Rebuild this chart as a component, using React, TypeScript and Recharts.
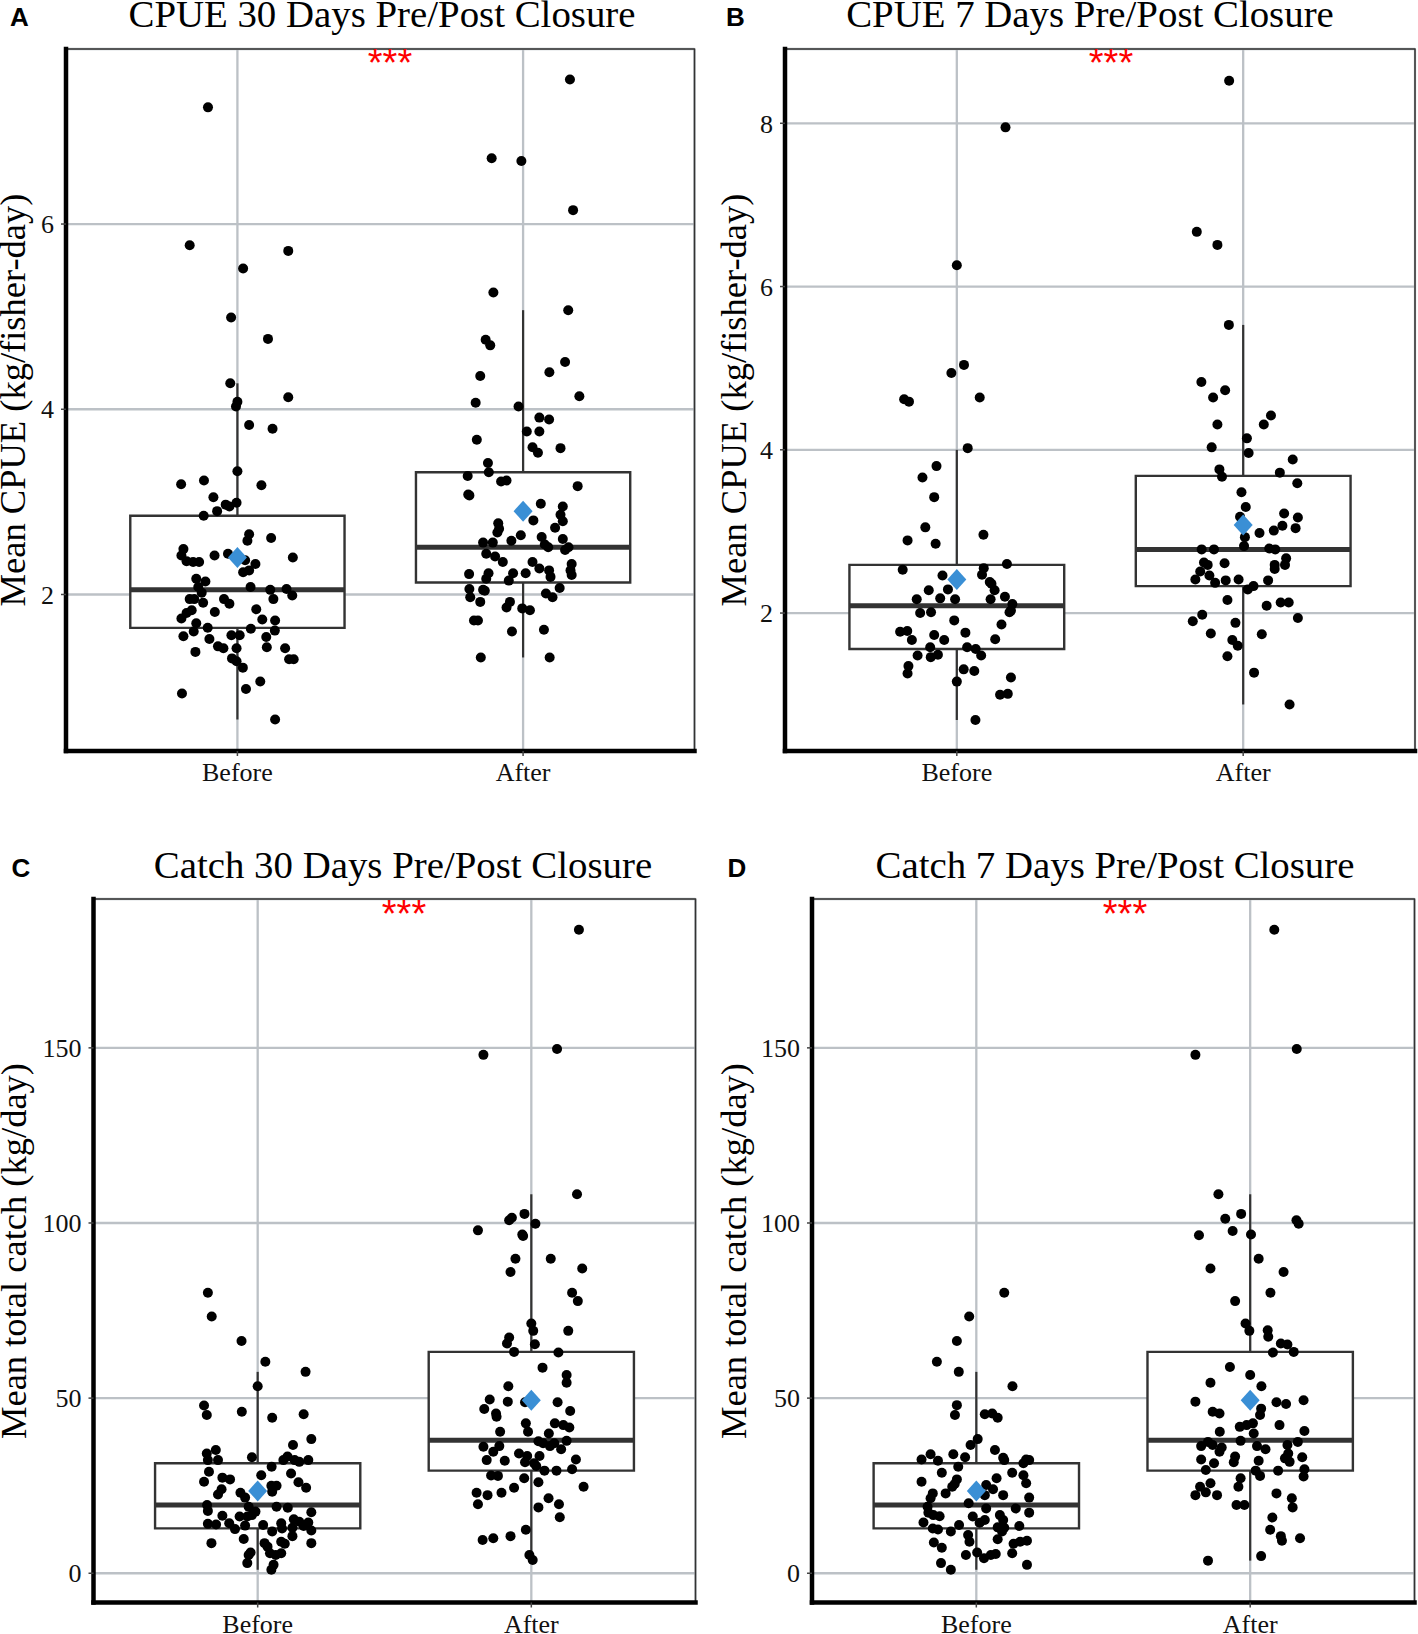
import React from 'react';
import {
  ComposedChart,
  Scatter,
  XAxis,
  YAxis,
  CartesianGrid,
  ReferenceArea,
  ReferenceLine,
} from 'recharts';

type Pt = [number, number]; // [jitter offset from group centre, value]

const groups = ['Before', 'After'];

// Panel A: CPUE 30 days
const cpue30Before: Pt[] = [
  [-0.103, 7.26], [-0.167, 5.77], [0.178, 5.71], [0.02, 5.52], [-0.022, 4.99], [0.107, 4.76], [-0.025, 4.28],
  [0.178, 4.13], [0, 4.08], [-0.005, 4.03], [0.041, 3.83], [0.123, 3.79], [0, 3.33], [-0.197, 3.19],
  [-0.117, 3.23], [0.084, 3.18], [-0.084, 3.05], [-0.041, 2.97], [-0.028, 2.95], [-0.003, 2.99], [-0.071, 2.9],
  [-0.118, 2.85], [0.041, 2.65], [0.035, 2.58], [0.118, 2.61], [-0.189, 2.49], [-0.196, 2.42], [-0.178, 2.36],
  [-0.155, 2.35], [-0.134, 2.35], [-0.08, 2.42], [-0.033, 2.44], [0.027, 2.37], [0.063, 2.33], [0.02, 2.24],
  [0.041, 2.26], [0.194, 2.4], [-0.144, 2.17], [-0.112, 2.14], [-0.137, 2.08], [-0.125, 2.02], [0.046, 2.08],
  [0.115, 2.05], [0.172, 2.06], [0.192, 1.99], [0.126, 1.95], [-0.167, 1.95], [-0.151, 1.95], [-0.12, 1.91],
  [-0.047, 1.95], [-0.028, 1.9], [-0.16, 1.83], [-0.178, 1.8], [-0.196, 1.74], [-0.079, 1.81], [0.066, 1.84],
  [0.087, 1.73], [0.132, 1.72], [-0.144, 1.69], [-0.153, 1.6], [-0.104, 1.64], [-0.189, 1.55], [-0.098, 1.52],
  [-0.021, 1.56], [0.008, 1.56], [0.047, 1.63], [0.131, 1.61], [0.101, 1.54], [-0.068, 1.44], [-0.049, 1.42],
  [-0.003, 1.42], [0.103, 1.43], [0.167, 1.42], [-0.147, 1.38], [-0.019, 1.31], [-0.003, 1.28], [0.019, 1.21],
  [0.181, 1.3], [0.197, 1.3], [0.08, 1.06], [0.03, 0.98], [-0.194, 0.93], [0.132, 0.65],
];
const cpue30After: Pt[] = [
  [0.164, 7.56], [-0.11, 6.71], [-0.006, 6.68], [0.175, 6.15], [-0.104, 5.26], [0.158, 5.07], [-0.131, 4.75],
  [-0.115, 4.69], [0.147, 4.51], [-0.15, 4.36], [0.092, 4.4], [0.197, 4.14], [-0.166, 4.07], [-0.016, 4.03],
  [0.057, 3.91], [0.091, 3.89], [0.013, 3.76], [0.057, 3.76], [-0.162, 3.67], [0.033, 3.59], [0.052, 3.53],
  [0.131, 3.58], [-0.123, 3.42], [-0.12, 3.32], [-0.194, 3.28], [-0.077, 3.22], [-0.058, 3.23], [0.191, 3.17],
  [-0.192, 3.08], [-0.188, 3.07], [0.062, 2.98], [0.139, 2.95], [0.131, 2.86], [0.139, 2.79], [0.036, 2.8],
  [-0.087, 2.77], [-0.084, 2.71], [-0.09, 2.67], [0.112, 2.72], [-0.008, 2.64], [0.065, 2.62], [0.139, 2.6],
  [-0.041, 2.58], [-0.14, 2.56], [-0.106, 2.56], [0.076, 2.54], [0.088, 2.51], [0.147, 2.48], [0.159, 2.51],
  [-0.129, 2.44], [-0.098, 2.41], [-0.071, 2.35], [0.033, 2.35], [0.17, 2.33], [0.057, 2.28], [0.091, 2.26],
  [0.166, 2.26], [-0.035, 2.23], [0.009, 2.23], [-0.189, 2.22], [-0.121, 2.23], [0.17, 2.21], [-0.129, 2.17],
  [-0.05, 2.15], [0.096, 2.19], [-0.14, 2.05], [-0.134, 2.04], [-0.188, 2.06], [0.128, 2.07], [0.08, 2.01],
  [0.103, 1.97], [-0.185, 1.97], [-0.15, 1.92], [-0.046, 1.92], [-0.058, 1.86], [-0.003, 1.85], [0.024, 1.83],
  [-0.172, 1.72], [-0.158, 1.72], [-0.039, 1.6], [0.073, 1.62], [-0.148, 1.32], [0.093, 1.32],
];
// [lower whisker, Q1, median, Q3, upper whisker] per group
const cpue30Stats = [
  [0.65, 1.64, 2.05, 2.85, 4.28],
  [1.32, 2.13, 2.51, 3.32, 5.07],
];
const cpue30Means = [2.4, 2.9];

// Panel B: CPUE 7 days
const cpue7Before: Pt[] = [
  [0.17, 7.95], [0, 6.26], [-0.019, 4.94], [0.025, 5.04], [0.08, 4.64], [-0.184, 4.62], [-0.167, 4.59],
  [0.038, 4.02], [-0.071, 3.8], [-0.12, 3.66], [-0.079, 3.42], [-0.11, 3.05], [-0.172, 2.89], [-0.074, 2.85],
  [0.093, 2.96], [-0.189, 2.53], [-0.05, 2.46], [0.094, 2.55], [0.088, 2.47], [0.175, 2.6], [0.115, 2.38],
  [0.121, 2.36], [0.132, 2.28], [-0.098, 2.28], [-0.031, 2.29], [-0.14, 2.17], [-0.058, 2.18], [-0.006, 2.17],
  [0.118, 2.17], [0.168, 2.2], [0.194, 2.11], [0.184, 2.01], [0.189, 2.03], [-0.128, 2.0], [-0.09, 2.01],
  [-0.009, 1.91], [0.156, 1.86], [-0.198, 1.77], [-0.173, 1.78], [-0.157, 1.67], [-0.079, 1.73], [-0.044, 1.67],
  [0.03, 1.76], [0.134, 1.68], [0.036, 1.58], [0.066, 1.56], [0.085, 1.48], [-0.137, 1.48], [-0.093, 1.58],
  [-0.091, 1.46], [-0.066, 1.49], [-0.169, 1.35], [-0.172, 1.26], [0.024, 1.31], [0.061, 1.29], [0, 1.16],
  [0.189, 1.21], [0.151, 1.0], [0.178, 1.01], [0.065, 0.69],
];
const cpue7After: Pt[] = [
  [-0.049, 8.52], [-0.162, 6.67], [-0.09, 6.51], [-0.05, 5.53], [-0.146, 4.83], [-0.105, 4.64], [-0.063, 4.73],
  [0.097, 4.42], [-0.09, 4.31], [0.072, 4.31], [0.013, 4.14], [-0.11, 4.03], [0.019, 3.96], [0.173, 3.88],
  [-0.083, 3.76], [-0.074, 3.67], [0.128, 3.72], [0.189, 3.59], [-0.006, 3.48], [0.009, 3.3], [0.143, 3.22],
  [0.191, 3.17], [-0.011, 3.18], [0.137, 3.07], [0.107, 3.01], [0.183, 3.04], [0.057, 2.98], [0.006, 2.93],
  [0.003, 2.82], [-0.145, 2.78], [-0.102, 2.78], [0.091, 2.79], [0.112, 2.78], [0.15, 2.67], [-0.137, 2.62],
  [-0.124, 2.59], [-0.065, 2.61], [0.11, 2.59], [0.146, 2.59], [-0.15, 2.51], [-0.118, 2.46], [0.11, 2.54],
  [-0.167, 2.41], [-0.098, 2.37], [-0.061, 2.4], [-0.016, 2.41], [0.087, 2.4], [0.016, 2.29], [0.036, 2.33],
  [-0.055, 2.16], [0.082, 2.09], [0.131, 2.13], [0.159, 2.13], [-0.143, 1.98], [-0.176, 1.9], [0.191, 1.94],
  [-0.027, 1.88], [-0.113, 1.75], [0.065, 1.74], [-0.038, 1.67], [-0.019, 1.6], [-0.055, 1.47], [0.038, 1.27],
  [0.162, 0.88],
];
const cpue7Stats = [
  [0.69, 1.56, 2.09, 2.59, 4.0],
  [0.88, 2.33, 2.78, 3.68, 5.53],
];
const cpue7Means = [2.41, 3.08];

// Panel C: catch 30 days
const catch30Before: Pt[] = [
  [-0.182, 80.1], [-0.168, 73.3], [-0.059, 66.3], [0.028, 60.4], [0.175, 57.5], [0, 53.4], [-0.196, 47.9],
  [-0.186, 45.2], [-0.058, 46.1], [0.053, 44.4], [0.168, 45.4], [0.196, 38.3], [-0.153, 35.2], [-0.186, 34.2],
  [-0.182, 32.3], [-0.145, 32.3], [-0.021, 33.1], [0.129, 36.6], [0.109, 33.3], [0.135, 32.3], [0.152, 31.8],
  [0.185, 32.3], [0.094, 32.3], [0.051, 30.4], [-0.178, 29.0], [0.122, 28.5], [-0.129, 27.3], [-0.101, 26.8],
  [0.013, 28.0], [-0.196, 26.1], [0.149, 26.0], [0.177, 24.4], [-0.132, 24.0], [-0.145, 22.5], [-0.063, 23.0],
  [-0.046, 21.6], [0.05, 25.0], [0.069, 25.0], [0.053, 23.3], [-0.185, 19.5], [-0.182, 17.8], [0.069, 19.0],
  [0.11, 18.7], [-0.033, 19.0], [-0.008, 17.6], [-0.038, 16.2], [-0.021, 16.6], [-0.129, 16.4], [-0.066, 16.2],
  [0.196, 17.4], [0.132, 15.4], [0.152, 14.7], [0.185, 14.5], [0.196, 12.2], [0.02, 13.8], [-0.182, 14.1],
  [-0.152, 13.9], [-0.104, 14.3], [-0.083, 12.6], [-0.046, 13.6], [0.086, 14.3], [0.089, 12.8], [0.127, 13.0],
  [0.168, 13.5], [0.053, 11.9], [-0.051, 9.8], [0.127, 10.6], [-0.169, 8.6], [0.196, 8.6], [0.025, 8.6],
  [0.036, 7.6], [0.086, 9.0], [0.099, 8.4], [-0.026, 5.9], [-0.033, 5.2], [0.045, 5.7], [0.066, 5.2],
  [0.086, 5.7], [-0.038, 2.9], [0.058, 2.4], [0.05, 1.0],
];
const catch30After: Pt[] = [
  [0.174, 183.7], [-0.175, 148.0], [0.094, 149.7], [0.167, 108.2], [-0.071, 101.5], [-0.081, 100.8],
  [-0.025, 102.6], [0.015, 99.8], [-0.195, 97.9], [-0.033, 96.7], [-0.03, 96.3], [-0.058, 89.8], [0.071, 89.8],
  [-0.076, 86.0], [0.186, 87.0], [0.149, 80.1], [0.17, 77.7], [0, 71.3], [0.007, 69.2], [0.135, 69.2],
  [-0.081, 67.3], [-0.089, 65.6], [0.013, 65.4], [-0.063, 63.2], [0.099, 63.0], [0.041, 58.7], [0.129, 56.6],
  [0.129, 54.4], [-0.084, 53.4], [-0.152, 49.6], [-0.172, 46.9], [-0.086, 49.0], [-0.023, 48.8], [0.096, 48.8],
  [-0.129, 45.6], [-0.127, 44.7], [0.142, 46.3], [-0.02, 42.8], [-0.012, 40.4], [0.086, 42.8], [0.117, 42.3],
  [0.139, 41.6], [-0.114, 40.4], [0.064, 39.9], [0.026, 37.7], [0.043, 37.1], [0.068, 36.3], [0.084, 37.1],
  [0.129, 37.8], [-0.175, 36.1], [-0.117, 36.3], [0.109, 35.4], [-0.139, 34.7], [-0.045, 34.2], [-0.015, 33.5],
  [0.03, 33.5], [-0.163, 32.3], [-0.097, 32.1], [0.163, 32.5], [-0.023, 31.7], [0.01, 31.4], [0.018, 30.6],
  [0.048, 29.3], [0.092, 29.3], [0.149, 29.7], [-0.147, 27.9], [-0.122, 27.8], [-0.026, 27.1], [0.026, 26.0],
  [-0.063, 24.4], [0.191, 24.7], [-0.2, 23.0], [-0.16, 22.3], [-0.109, 23.0], [-0.195, 19.7], [0.063, 21.4],
  [0.026, 18.8], [0.101, 19.7], [0.104, 16.0], [-0.178, 9.5], [-0.139, 10.0], [-0.076, 10.6], [-0.02, 12.4],
  [-0.007, 5.2], [0.005, 3.8],
];
const catch30Stats = [
  [1.0, 12.8, 19.5, 31.4, 57.5],
  [3.8, 29.3, 38.0, 63.2, 108.2],
];
const catch30Means = [23.5, 49.4];

// Panel D: catch 7 days
const catch7Before: Pt[] = [
  [0.102, 80.1], [-0.026, 73.3], [-0.071, 66.3], [-0.144, 60.4], [-0.064, 57.5], [0.132, 53.4], [-0.071, 48.0],
  [-0.078, 45.2], [0.031, 45.4], [0.058, 45.6], [0.078, 44.4], [-0.021, 36.6], [0.005, 38.3], [0.068, 35.2],
  [-0.2, 32.5], [-0.167, 34.0], [-0.14, 32.1], [-0.084, 34.0], [-0.041, 33.1], [0.098, 33.0], [0.102, 32.3],
  [0.172, 31.4], [0.193, 32.3], [0.182, 32.5], [-0.066, 30.4], [-0.126, 28.7], [0.131, 28.7], [0.172, 28.0],
  [0.182, 25.7], [-0.2, 26.1], [-0.071, 26.8], [-0.079, 25.5], [-0.088, 24.7], [0.074, 27.1], [0.036, 25.2],
  [0.061, 24.0], [0.098, 22.3], [0.031, 22.3], [-0.159, 22.8], [-0.167, 21.4], [-0.112, 22.8], [0.193, 21.6],
  [-0.028, 20.0], [-0.178, 19.0], [-0.175, 17.3], [-0.157, 16.6], [-0.134, 16.3], [0.036, 18.5], [-0.013, 16.2],
  [0.012, 14.4], [0.031, 15.2], [0.086, 16.6], [0.098, 15.2], [0.078, 13.1], [0.102, 13.0], [0.094, 11.9],
  [0.144, 18.5], [0.193, 17.3], [0.157, 13.5], [-0.193, 14.5], [-0.159, 12.8], [-0.14, 12.5], [-0.093, 11.9],
  [-0.063, 13.8], [-0.03, 10.9], [-0.025, 9.0], [0.078, 9.7], [0.136, 8.4], [0.16, 9.0], [0.185, 9.3],
  [-0.155, 8.8], [-0.126, 7.3], [-0.038, 5.2], [0.003, 5.9], [0.028, 4.3], [0.053, 5.2], [0.071, 5.5],
  [0.131, 5.7], [-0.129, 2.9], [-0.093, 1.0], [0.185, 2.4],
];
const catch7After: Pt[] = [
  [0.088, 183.7], [-0.2, 148.0], [0.17, 149.7], [-0.116, 108.2], [-0.091, 101.2], [-0.033, 102.6],
  [0.169, 100.8], [0.177, 99.8], [-0.187, 96.5], [-0.064, 97.7], [0.003, 96.7], [0.031, 89.8], [-0.145, 87.0],
  [0.122, 86.0], [0.074, 80.1], [-0.055, 77.7], [-0.017, 71.3], [-0.003, 69.2], [0.064, 69.4], [0.066, 67.5],
  [0.112, 65.6], [0.136, 65.3], [0.159, 63.2], [0.083, 63.0], [-0.074, 58.9], [0, 56.6], [-0.145, 54.4],
  [0.041, 53.4], [-0.2, 49.0], [0.096, 48.8], [0.131, 48.3], [0.195, 49.4], [-0.137, 46.1], [-0.112, 45.6],
  [0.036, 45.2], [0.04, 47.0], [-0.038, 41.8], [-0.013, 42.3], [0.01, 42.8], [0.107, 42.3], [-0.111, 40.4],
  [0.013, 39.9], [0.198, 40.6], [-0.154, 37.5], [-0.179, 36.3], [-0.137, 36.6], [-0.104, 35.9], [-0.035, 37.8],
  [0.025, 36.3], [0.056, 35.4], [0.174, 37.5], [0.136, 36.6], [-0.112, 34.7], [0.139, 34.2], [0.127, 32.8],
  [0.144, 31.8], [0.19, 33.1], [-0.179, 32.5], [-0.132, 31.4], [-0.055, 33.3], [-0.06, 31.7], [0.031, 32.1],
  [-0.162, 29.5], [0.02, 29.3], [0.036, 27.8], [0.102, 29.3], [0.198, 29.7], [0.195, 27.6], [-0.035, 27.1],
  [-0.145, 25.7], [-0.183, 24.7], [-0.162, 23.1], [-0.121, 22.3], [-0.2, 22.3], [-0.043, 24.7], [0.096, 22.8],
  [0.152, 21.4], [0.155, 18.8], [-0.05, 19.5], [-0.021, 19.5], [0.081, 15.9], [0.073, 12.4], [0.112, 10.6],
  [0.116, 9.3], [0.182, 10.0], [0.04, 4.9], [-0.154, 3.6],
];
const catch7Stats = [
  [1.0, 12.8, 19.5, 31.4, 57.5],
  [3.6, 29.3, 38.0, 63.2, 108.2],
];
const catch7Means = [23.5, 49.4];

const cpueTicksA = [2, 4, 6];
const cpueTicksB = [2, 4, 6, 8];
const catchTicks = [0, 50, 100, 150];

const SERIF = '"Liberation Serif", "Times New Roman", Times, serif';
const SANS = '"Liberation Sans", Arial, Helvetica, sans-serif';
const GRID = '#bcc1c6';
const BOX = '#333333';
const MEAN = '#3a8fd5';
const BOX_HALF = 0.375;

interface PanelProps {
  before: Pt[];
  after: Pt[];
  stats: number[][];
  means: number[];
  domain: [number, number];
  ticks: number[];
  left: number;
  top: number;
  width: number;
  height: number;
  yAxisWidth: number;
  marginTop: number;
  marginRight: number;
  plotHeight: number;
}

const Dot = (p: any) => <circle cx={p.cx} cy={p.cy} r={5} fill="#000" />;
const Diamond = (p: any) => (
  <polygon
    points={`${p.cx},${p.cy - 10.5} ${p.cx + 9.5},${p.cy} ${p.cx},${p.cy + 10.5} ${p.cx - 9.5},${p.cy}`}
    fill={MEAN}
  />
);

function Panel(props: PanelProps) {
  const { before, after, stats, means, domain, ticks } = props;
  const points = [
    ...before.map(([j, v]) => ({ x: 1 + j, y: v })),
    ...after.map(([j, v]) => ({ x: 2 + j, y: v })),
  ];
  const meanData = means.map((m, i) => ({ x: i + 1, y: m }));
  const xAxisHeight = props.height - props.marginTop - props.plotHeight;

  return (
    <div style={{ position: 'absolute', left: props.left, top: props.top }}>
      <ComposedChart
        width={props.width}
        height={props.height}
        margin={{ top: props.marginTop, right: props.marginRight, bottom: 0, left: 0 }}
      >
        <CartesianGrid stroke={GRID} strokeWidth={2.3} />
        <ReferenceArea
          x1={0.4}
          x2={2.6}
          y1={domain[0]}
          y2={domain[1]}
          fill="none"
          stroke="#333"
          strokeWidth={1.5}
          ifOverflow="visible"
        />
        {stats.map((s, i) => {
          const c = i + 1;
          return (
            <React.Fragment key={groups[i]}>
              <ReferenceLine segment={[{ x: c, y: s[0] }, { x: c, y: s[1] }]} stroke={BOX} strokeWidth={2.2} ifOverflow="visible" />
              <ReferenceLine segment={[{ x: c, y: s[3] }, { x: c, y: s[4] }]} stroke={BOX} strokeWidth={2.2} ifOverflow="visible" />
              <ReferenceArea
                x1={c - BOX_HALF}
                x2={c + BOX_HALF}
                y1={s[1]}
                y2={s[3]}
                fill="#ffffff"
                fillOpacity={1}
                stroke={BOX}
                strokeWidth={2.4}
                ifOverflow="visible"
              />
              <ReferenceLine
                segment={[{ x: c - BOX_HALF, y: s[2] }, { x: c + BOX_HALF, y: s[2] }]}
                stroke={BOX}
                strokeWidth={5}
                ifOverflow="visible"
              />
            </React.Fragment>
          );
        })}
        <XAxis
          type="number"
          dataKey="x"
          domain={[0.4, 2.6]}
          ticks={[1, 2]}
          interval={0}
          allowDataOverflow
          tickFormatter={(v: number) => groups[Math.round(v) - 1]}
          height={xAxisHeight}
          axisLine={{ stroke: '#000', strokeWidth: 4.5, strokeLinecap: 'square' }}
          tickLine={{ stroke: '#444', strokeWidth: 1.5 }}
          tickSize={5}
          tickMargin={7}
          tick={{ fontSize: 26, fill: '#111', fontFamily: SERIF }}
        />
        <YAxis
          type="number"
          dataKey="y"
          domain={domain}
          ticks={ticks}
          interval={0}
          allowDataOverflow
          width={props.yAxisWidth}
          axisLine={{ stroke: '#000', strokeWidth: 4.5, strokeLinecap: 'square' }}
          tickLine={{ stroke: '#444', strokeWidth: 1.5 }}
          tickSize={5}
          tickMargin={7}
          tick={{ fontSize: 26, fill: '#111', fontFamily: SERIF }}
        />
        <Scatter data={points} shape={Dot} isAnimationActive={false} />
        <Scatter data={meanData} shape={Diamond} isAnimationActive={false} />
      </ComposedChart>
    </div>
  );
}

const titles = [
  { letter: 'A', lx: 19.5, title: 'CPUE 30 Days Pre/Post Closure', tx: 382, ty: 27, ylabel: 'Mean CPUE (kg/fisher-day)', yx: 25, yc: 400, sx: 390, sy: 76 },
  { letter: 'B', lx: 735.5, title: 'CPUE 7 Days Pre/Post Closure', tx: 1090, ty: 27, ylabel: 'Mean CPUE (kg/fisher-day)', yx: 746, yc: 400, sx: 1111, sy: 76 },
  { letter: 'C', lx: 21, title: 'Catch 30 Days Pre/Post Closure', tx: 403, ty: 878, ylabel: 'Mean total catch (kg/day)', yx: 26, yc: 1251, sx: 404, sy: 927 },
  { letter: 'D', lx: 737, title: 'Catch 7 Days Pre/Post Closure', tx: 1115, ty: 878, ylabel: 'Mean total catch (kg/day)', yx: 746, yc: 1251, sx: 1125, sy: 927 },
];

export default function App() {
  return (
    <div
      style={{
        position: 'absolute',
        left: 0,
        top: 0,
        width: 1418,
        height: 1634,
        overflow: 'hidden',
        background: '#fff',
      }}
    >
      <Panel before={cpue30Before} after={cpue30After} stats={cpue30Stats} means={cpue30Means}
        domain={[0.31, 7.89]} ticks={cpueTicksA}
        left={0} top={0} width={709} height={820} yAxisWidth={66} marginTop={49} marginRight={14.5} plotHeight={702} />
      <Panel before={cpue7Before} after={cpue7After} stats={cpue7Stats} means={cpue7Means}
        domain={[0.31, 8.91]} ticks={cpueTicksB}
        left={709} top={0} width={709} height={820} yAxisWidth={76} marginTop={49} marginRight={3} plotHeight={702} />
      <Panel before={catch30Before} after={catch30After} stats={catch30Stats} means={catch30Means}
        domain={[-8.35, 192.5]} ticks={catchTicks}
        left={0} top={820} width={709} height={860} yAxisWidth={93.5} marginTop={79} marginRight={13.5} plotHeight={703.5} />
      <Panel before={catch7Before} after={catch7After} stats={catch7Stats} means={catch7Means}
        domain={[-8.35, 192.5]} ticks={catchTicks}
        left={709} top={820} width={709} height={860} yAxisWidth={103} marginTop={79} marginRight={3.5} plotHeight={703.5} />

      <svg width={1418} height={1634} style={{ position: 'absolute', left: 0, top: 0, pointerEvents: 'none' }}>
        {titles.map((t) => (
          <g key={t.letter}>
            <text x={t.lx} y={t.ty - 1} textAnchor="middle" fontFamily={SANS} fontWeight="bold" fontSize={26} fill="#000">
              {t.letter}
            </text>
            <text
              transform={`translate(${t.tx},${t.ty}) scale(1.05,1)`}
              textAnchor="middle"
              fontFamily={SERIF}
              fontSize={37}
              fill="#000"
            >
              {t.title}
            </text>
            <text
              transform={`translate(${t.yx},${t.yc}) rotate(-90)`}
              textAnchor="middle"
              fontFamily={SERIF}
              fontSize={36.5}
              fill="#000"
            >
              {t.ylabel}
            </text>
            <text x={t.sx} y={t.sy} textAnchor="middle" fontFamily={SANS} fontSize={38} fill="#ff0000">
              ***
            </text>
          </g>
        ))}
      </svg>
    </div>
  );
}
